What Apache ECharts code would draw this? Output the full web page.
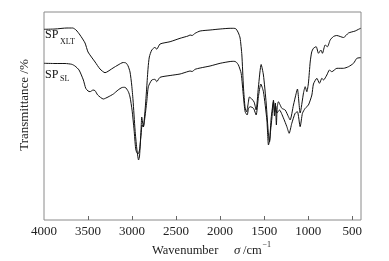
<!DOCTYPE html>
<html>
<head>
<meta charset="utf-8">
<script src="https://cdn.jsdelivr.net/npm/echarts@6/dist/echarts.min.js"></script>
<style>
html,body{margin:0;padding:0;background:#fff;}
#chart{width:389px;height:261px;}
</style>
</head>
<body>
<div id="chart"></div>
<script>
// Wavenumber (cm^-1) and transmittance (arbitrary units)
const xltWavenumber = [4000,3875,3739,3674,3636,3591,3534,3500,3420,3364,3307,3216,3159,3102,3068,3045,3023,3004,2989,2966,2947,2926,2915,2898,2890,2881,2872,2852,2833,2818,2804,2776,2739,2720,2682,2568,2455,2364,2341,2318,2284,2227,2114,2000,1886,1841,1818,1792,1773,1753,1735,1716,1699,1682,1667,1640,1614,1591,1565,1534,1508,1477,1451,1439,1426,1412,1394,1383,1372,1361,1352,1338,1299,1261,1224,1205,1167,1136,1122,1091,1053,1034,1015,997,977,960,940,909,883,856,838,807,781,750,713,675,599,542,466,428,403];
const xltTransmittance = [190.7,191,192,192,190,185,177,168,158,151,147.3,152,155,157.5,157,154,148,135,120,90,72,60,64,90,103,98,93,110,133,152,163,170,172.7,170.7,176,178.3,181.7,184,185,184.5,186.7,189,190,191,191.7,191.7,191,187,182,165,133,112,108,116,123,121,118,110,133,155.5,145,117,85,78,90,102,120,104,117,95,112,118.3,111.7,110,103.3,100,115,126.7,131,107,127,133.3,128.3,137,158,168,171.7,173.3,166.7,170,166.7,175,173.3,180,183.5,184.5,182.5,187,189,190.7,191.7];

const slWavenumber = [4000,3875,3761,3685,3648,3602,3553,3526,3500,3477,3443,3420,3390,3326,3273,3212,3159,3114,3080,3042,3023,3000,2977,2960,2949,2932,2915,2898,2886,2872,2858,2833,2815,2776,2739,2720,2682,2568,2455,2364,2341,2318,2284,2227,2114,2000,1886,1841,1818,1792,1761,1735,1716,1693,1676,1659,1621,1591,1565,1538,1508,1469,1451,1437,1420,1394,1381,1369,1355,1326,1281,1242,1216,1186,1148,1122,1091,1065,1034,997,958,940,901,872,844,825,788,758,731,674,599,542,485,447,403];
const slTransmittance = [156.7,156.5,156.5,155.7,154,150,140,131.7,129,128.3,130,129.3,125,121,123,126,130,132.5,132.7,128.3,123,110,90,72,68,66,70,85,95,93,100,118.3,133.3,140,140.7,138.3,142.7,144.5,146,148.5,149,148.5,150.7,152,154,156.7,158.5,158.7,158,155,146.7,123.3,108.3,105,112,113.3,111.7,105,123.3,136,128.3,100,75,80,102,118.3,108,114,107,110,102,93.3,86.7,96.7,106.7,108.3,93.3,106.7,111.7,115,125,136,141.7,136.7,141.7,140,145,150,148.3,151.7,151.7,153.3,156.7,161.7,162.3];

const xTickLabels = [4000,3500,3000,2500,2000,1500,1000,500];
const xTickMarks = [3500,3000,2500,2000,1500,1000,500];

const zip = (a, b) => a.map((v, i) => [v, b[i]]);
const serif = '"Liberation Serif","Times New Roman",serif';
const chart = echarts.init(document.getElementById('chart'), null, {renderer: 'canvas'});
chart.setOption({
  animation: false,
  backgroundColor: '#fff',
  grid: {left: 44, right: 28, top: 12, bottom: 41, show: true, borderColor: '#8a8a8a', borderWidth: 1, backgroundColor: 'transparent'},
  xAxis: {
    type: 'value', inverse: true, min: 400, max: 4000,
    axisLine: {show: false},
    splitLine: {show: false},
    axisTick: {show: true, inside: true, length: 4, lineStyle: {color: '#666', width: 1}, customValues: xTickMarks},
    axisLabel: {show: true, fontFamily: serif, fontSize: 13, color: '#222', margin: 5, customValues: xTickLabels, formatter: v => String(v)}
  },
  yAxis: {
    type: 'value', min: 0, max: 208,
    axisLine: {show: false}, axisTick: {show: false}, axisLabel: {show: false}, splitLine: {show: false}
  },
  series: [
    {name: 'SP_XLT', type: 'line', data: zip(xltWavenumber, xltTransmittance), showSymbol: false, symbol: 'none', smooth: 0.2, lineStyle: {color: '#111', width: 1}},
    {name: 'SP_SL', type: 'line', data: zip(slWavenumber, slTransmittance), showSymbol: false, symbol: 'none', smooth: 0.2, lineStyle: {color: '#111', width: 1}}
  ],
  graphic: [
    {type: 'text', left: 45, top: 29, style: {text: 'SP', font: '12px ' + serif, fill: '#111'}},
    {type: 'text', left: 60, top: 38, style: {text: 'XLT', font: '8px ' + serif, fill: '#111'}},
    {type: 'text', left: 45, top: 69, style: {text: 'SP', font: '12px ' + serif, fill: '#111'}},
    {type: 'text', left: 60, top: 75, style: {text: 'SL', font: '8px ' + serif, fill: '#111'}},
    {type: 'text', x: 25, y: 105, rotation: Math.PI / 2, style: {text: 'Transmittance /%', font: '13px ' + serif, fill: '#222', align: 'center', verticalAlign: 'middle'}},
    {type: 'text', x: 152, y: 251, style: {text: 'Wavenumber', font: '12.5px ' + serif, fill: '#222', align: 'left', verticalAlign: 'middle'}},
    {type: 'text', x: 234, y: 251, style: {text: 'σ', font: 'italic 13px ' + serif, fill: '#222', align: 'left', verticalAlign: 'middle'}},
    {type: 'text', x: 243, y: 251, style: {text: '/cm', font: '12.5px ' + serif, fill: '#222', align: 'left', verticalAlign: 'middle'}},
    {type: 'text', x: 262.5, y: 245, style: {text: '−1', font: '8px ' + serif, fill: '#222', align: 'left', verticalAlign: 'middle'}}
  ]
});
</script>
</body>
</html>
